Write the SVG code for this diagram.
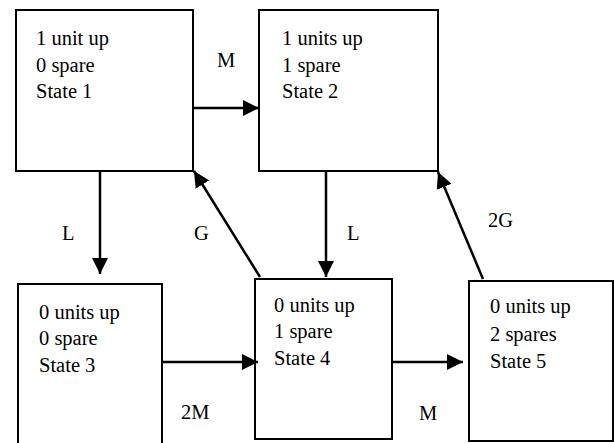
<svg xmlns="http://www.w3.org/2000/svg" width="614" height="443" viewBox="0 0 614 443">
  <style>
    text { font-family: "Liberation Serif", "Times New Roman", serif; font-size: 20.5px; fill: #000; }
    .box { fill: #fff; stroke: #000; stroke-width: 2; }
    .conn { stroke: #000; stroke-width: 2.5; fill: none; marker-end: url(#head); }
  </style>
  <defs>
    <marker id="head" viewBox="0 0 16 16" refX="16" refY="8" markerWidth="16" markerHeight="16" markerUnits="userSpaceOnUse" orient="auto">
      <path d="M0,0 L16,8 L0,16 Z" fill="#000"/>
    </marker>
  </defs>
  <rect width="614" height="443" fill="#fff"/>

  <g id="state1">
    <rect class="box" x="16" y="10" width="177" height="161"/>
    <text x="36" y="45">1 unit up</text>
    <text x="36" y="72">0 spare</text>
    <text x="36" y="98">State 1</text>
  </g>

  <g id="state2">
    <rect class="box" x="259" y="10" width="179" height="161"/>
    <text x="282" y="45">1 units up</text>
    <text x="282" y="72">1 spare</text>
    <text x="282" y="98">State 2</text>
  </g>

  <g id="state3">
    <path class="box" d="M18,443 V284 H162 V443"/>
    <text x="39" y="319">0 units up</text>
    <text x="39" y="345">0 spare</text>
    <text x="39" y="372">State 3</text>
  </g>

  <g id="state4">
    <rect class="box" x="255" y="279" width="137" height="160"/>
    <text x="274" y="312">0 units up</text>
    <text x="274" y="338">1 spare</text>
    <text x="274" y="365">State 4</text>
  </g>

  <g id="state5">
    <rect class="box" x="469" y="281" width="144" height="160"/>
    <text x="490" y="313">0 units up</text>
    <text x="490" y="341">2 spares</text>
    <text x="490" y="368">State 5</text>
  </g>

  <g id="connectors">
    <line class="conn" x1="193" y1="108" x2="259" y2="108"/>
    <line class="conn" x1="100" y1="171" x2="100" y2="274"/>
    <line class="conn" x1="326" y1="171" x2="326" y2="277"/>
    <line class="conn" x1="260" y1="277" x2="194" y2="171"/>
    <line class="conn" x1="483" y1="279" x2="438" y2="172"/>
    <line class="conn" x1="162" y1="362" x2="258" y2="362"/>
    <line class="conn" x1="392" y1="362" x2="463" y2="362"/>
    <text x="217" y="67">M</text>
    <text x="62" y="240">L</text>
    <text x="194" y="240">G</text>
    <text x="347" y="240">L</text>
    <text x="488" y="227">2G</text>
    <text x="181" y="419">2M</text>
    <text x="419" y="420">M</text>
  </g>
</svg>
